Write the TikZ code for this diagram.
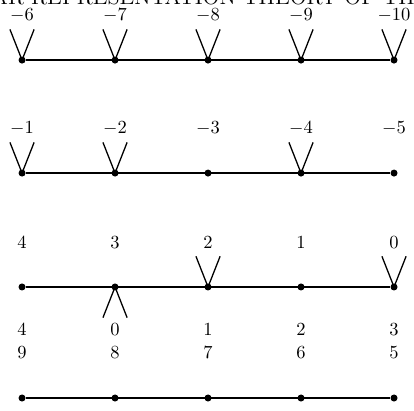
\documentclass[tikz,border=0pt]{standalone}
\usepackage{amsmath}
\usepackage{tikz}
\usetikzlibrary{positioning}
\tikzset{
  vert/.style={circle,fill=black,inner sep=0pt,minimum size=3.8pt},
  lbl/.style={inner sep=0pt},
  edge/.style={line width=1.1pt},
  arm/.style={line width=0.7pt}
}
\newcommand{\Vup}[1]{\draw[arm] ([shift={(-0.13,0.33)}]#1.center) -- (#1.center) -- ([shift={(0.13,0.33)}]#1.center);}
\newcommand{\Vdown}[1]{\draw[arm] ([shift={(-0.13,-0.33)}]#1.center) -- (#1.center) -- ([shift={(0.13,-0.33)}]#1.center);}

\begin{document}
\begin{tikzpicture}[x=1.767cm,y=1.767cm]
  \useasboundingbox (-0.237,-0.129) rectangle (4.215,4.280);
  % running head, cut by the page
  \node[anchor=base west,inner sep=0pt,font=\large] (head) at (-0.33,4.228) {AR REPRESENTATION THEORY OF THE};
  % the four rows
  \foreach \r/\y in {a/3.634,b/2.419,c/1.194,d/0}{
    \foreach \c in {0,...,4}{\node[vert] (\r\c) at (\c,\y) {};}
    \draw[edge] (\r0) -- (\r4);}
  \foreach \c/\t in {0/-6,1/-7,2/-8,3/-9,4/-10}{\node[lbl] (la\c) at (\c,4.118) {$\t$};}
  \foreach \c/\t in {0/-1,1/-2,2/-3,3/-4,4/-5}{\node[lbl] (lb\c) at (\c,2.903) {$\t$};}
  \foreach \c/\t in {0/4,1/3,2/2,3/1,4/0}{\node[lbl] (lc\c) at (\c,1.677) {$\t$};}
  \foreach \c/\t in {0/4,1/0,2/1,3/2,4/3}{\node[lbl] (ld\c) at (\c,0.731) {$\t$};}
  \foreach \c/\t in {0/9,1/8,2/7,3/6,4/5}{\node[lbl] (le\c) at (\c,0.484) {$\t$};}
  % arms
  \foreach \c in {0,...,4}{\Vup{a\c}}
  \foreach \c in {0,1,3}{\Vup{b\c}}
  \Vup{c2}
  \Vup{c4}
  \Vdown{c1}
\end{tikzpicture}
\end{document}
